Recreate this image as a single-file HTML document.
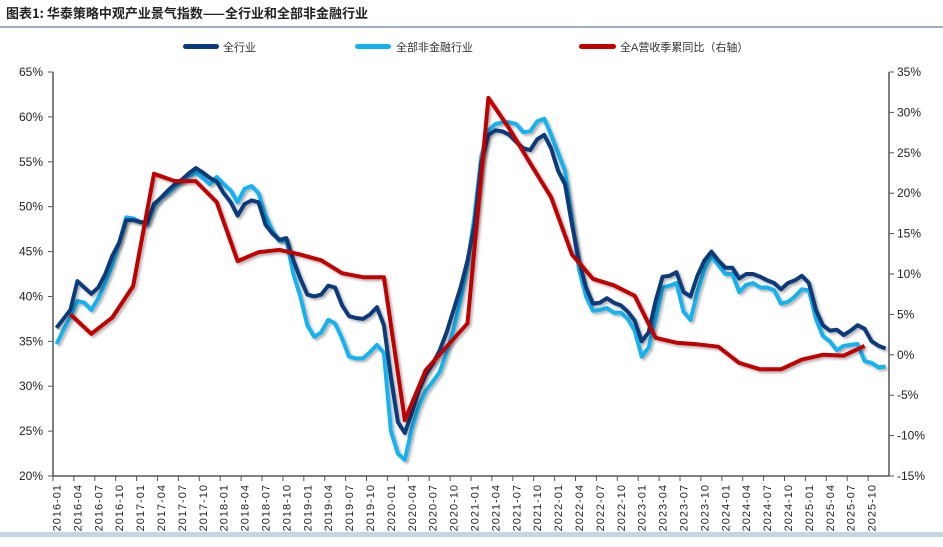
<!DOCTYPE html>
<html><head><meta charset="utf-8">
<style>
body{margin:0;background:#fff;width:943px;height:542px;overflow:hidden;font-family:"Liberation Sans","Noto Sans CJK SC",sans-serif;}
</style></head>
<body>
<svg id="chart" width="943" height="542" xmlns="http://www.w3.org/2000/svg" font-family="Liberation Sans, Noto Sans CJK SC, sans-serif">
<defs><filter id="sh" x="-5%" y="-5%" width="110%" height="110%"><feDropShadow dx="2" dy="2" stdDeviation="1.2" flood-color="#000" flood-opacity="0.3"/></filter></defs>
<text x="6" y="18" font-size="13" font-weight="bold" fill="#222" font-family="Noto Sans CJK SC, sans-serif">图表1:  华泰策略中观产业景气指数——全行业和全部非金融行业</text>
<rect x="0" y="26" width="943" height="2" fill="#9fb0c4"/>
<rect x="0" y="532" width="943" height="5" fill="#c8d4e2"/>
<g>
<g><rect x="183" y="44" width="36" height="5" rx="2.5" fill="#0b3a7a"/><text x="223" y="51" font-size="11" fill="#333">全行业</text></g>
<g><rect x="355" y="44" width="36" height="5" rx="2.5" fill="#14b2ee"/><text x="396" y="51" font-size="11" fill="#333">全部非金融行业</text></g>
<g><rect x="579" y="44" width="37" height="5" rx="2.5" fill="#c00000"/><text x="620" y="51" font-size="11" fill="#333">全A营收季累同比（右轴）</text></g>
</g>
<g id="axes"></g>
<g id="series"></g>
</svg>
<script>
const months=[];for(let y=2016;y<=2025;y++)for(let m=1;m<=12;m++)months.push(y+'-'+String(m).padStart(2,'0'));
const allIndustry=[36.5,37.5,38.5,41.7,41,40.3,41,42.5,44.5,46,48.5,48.5,
48.3,48.2,50.3,51,51.8,52.5,53,53.7,54.3,53.8,53.2,52.8,
51.5,50.5,49,50.3,50.7,50.5,48,47,46.3,46.5,44,42,
40.2,40,40.2,41.2,41,39,37.8,37.6,37.5,38,38.8,36.8,
31,26,24.8,27,29.5,31.3,32.5,34,36,38.5,41,44,
48,55,58,58.5,58.4,58,57.2,56.5,56.3,57.5,58,56.5,
54,52.5,48,44,41,39.2,39.3,39.8,39.3,39,38.3,37.3,
35,36,39.5,42.2,42.3,42.7,40.5,40,42.3,44,45,44,
43.2,43.2,42,42.5,42.5,42.2,41.8,41.5,40.8,41.5,41.8,42.3,
41.5,38.5,36.8,36.2,36.3,35.7,36.2,36.8,36.4,35,34.5,34.2];
const nonFinancial=[34.7,36.3,37.7,39.5,39.3,38.5,39.8,41.5,43.5,46,48.8,48.7,
48.3,48,50,51,51.5,52.2,52.8,53.4,53.8,53.2,52.5,53.3,
52.5,51.8,50.5,52,52.3,51.5,49,47.3,46.2,46.2,42.5,40,
36.8,35.5,36,37.4,37,35.3,33.3,33.1,33.1,33.8,34.6,33.7,
25,22.5,21.8,25.3,27.8,29.5,30.5,31.6,33.8,36.3,39.7,43.5,
49,55.7,58.5,59.2,59.4,59.4,59.2,58.3,58.4,59.5,59.8,58,
56,54,48.5,43,40,38.4,38.5,38.7,38.2,38.2,37.5,36.2,
33.3,34.3,37.5,41,41.2,41.5,38.3,37.4,40.5,43,44.5,43.5,
42.5,42.5,40.5,41.3,41.5,41,41,40.7,39.2,39.4,40,40.8,
40.7,37.5,35.6,35,34,34.5,34.6,34.7,32.8,32.6,32.1,32.2];
const revenueQuarters=[];for(let y=2016;y<=2025;y++)for(const m of ['03','06','09','12'])revenueQuarters.push(y+'-'+m);
const revenueYoY=[5.0,2.6,4.6,8.5,22.4,21.5,21.5,18.9,11.6,12.7,13.0,12.4,11.7,10.1,9.6,9.6,-8.1,-1.9,1.0,3.9,31.8,28,23.7,19.5,12.4,9.4,8.6,7.3,2.1,1.5,1.3,1.0,-1.0,-1.8,-1.8,-0.6,0,-0.1,1.1];
const leftTicks=[20,25,30,35,40,45,50,55,60,65];
const rightTicks=[-15,-10,-5,0,5,10,15,20,25,30,35];

const X0=53,X1=889,YT=72,YB=476;
const bw=(X1-X0)/months.length;
const xPos=m=>X0+(months.indexOf(m)+0.5)*bw;
const yL=v=>YB-(v-20)/45*(YB-YT);
const yR=v=>YB-(v+15)/50*(YB-YT);
const NS='http://www.w3.org/2000/svg';
function mk(tag,attrs,parent){const e=document.createElementNS(NS,tag);for(const k in attrs)e.setAttribute(k,attrs[k]);parent.appendChild(e);return e;}
const ax=document.getElementById('axes'),sr=document.getElementById('series');
let e;
e=mk('line',{x1:X0,y1:YT,x2:X0,y2:YB,stroke:'#555','stroke-width':1.5},ax);


e=mk('line',{x1:X1,y1:YT,x2:X1,y2:YB,stroke:'#555','stroke-width':1.5},ax);


e=mk('line',{x1:X0,y1:YB,x2:X1,y2:YB,stroke:'#555','stroke-width':1.5},ax);


leftTicks.forEach(v=>{const y=yL(v);
 mk('line',{x1:X0-5,y1:y,x2:X0,y2:y,stroke:'#555'},ax);
 e=mk('text',{x:X0-10,y:y+4,'font-size':12,'text-anchor':'end',fill:'#222'},ax);e.textContent=v+'%';
 
 });
rightTicks.forEach(v=>{const y=yR(v);
 mk('line',{x1:X1,y1:y,x2:X1+5,y2:y,stroke:'#555'},ax);
 e=mk('text',{x:X1+8,y:y+4,'font-size':12,fill:'#222'},ax);e.textContent=v+'%';
 
 });
months.forEach((m,i)=>{if(i%3===0){const xb=X0+i*bw;
 mk('line',{x1:xb,y1:YB,x2:xb,y2:YB+5,stroke:'#555'},ax);
 if(i<=117){const x=xPos(m);
 e=mk('text',{x:0,y:0,'font-size':11,'text-anchor':'end',fill:'#222','letter-spacing':'1',transform:`translate(${x+4},${YB+8}) rotate(-90)`},ax);e.textContent=m;
 
 }}});
function line(xs,ys,col,name){const d=xs.map((x,i)=>(i?'L':'M')+x.toFixed(1)+','+ys[i].toFixed(1)).join('');
 const p=mk('path',{d,fill:'none',stroke:col,'stroke-width':4,'stroke-linejoin':'round',filter:'url(#sh)'},sr);
 
 }
line(months.map(xPos),nonFinancial.map(yL),'#14b2ee','non-financial-line');
line(months.map(xPos),allIndustry.map(yL),'#0b3a7a','all-industry-line');
line(revenueQuarters.slice(0,revenueYoY.length).map(xPos),revenueYoY.map(yR),'#c00000','revenue-yoy-line');
</script>
</body></html>
